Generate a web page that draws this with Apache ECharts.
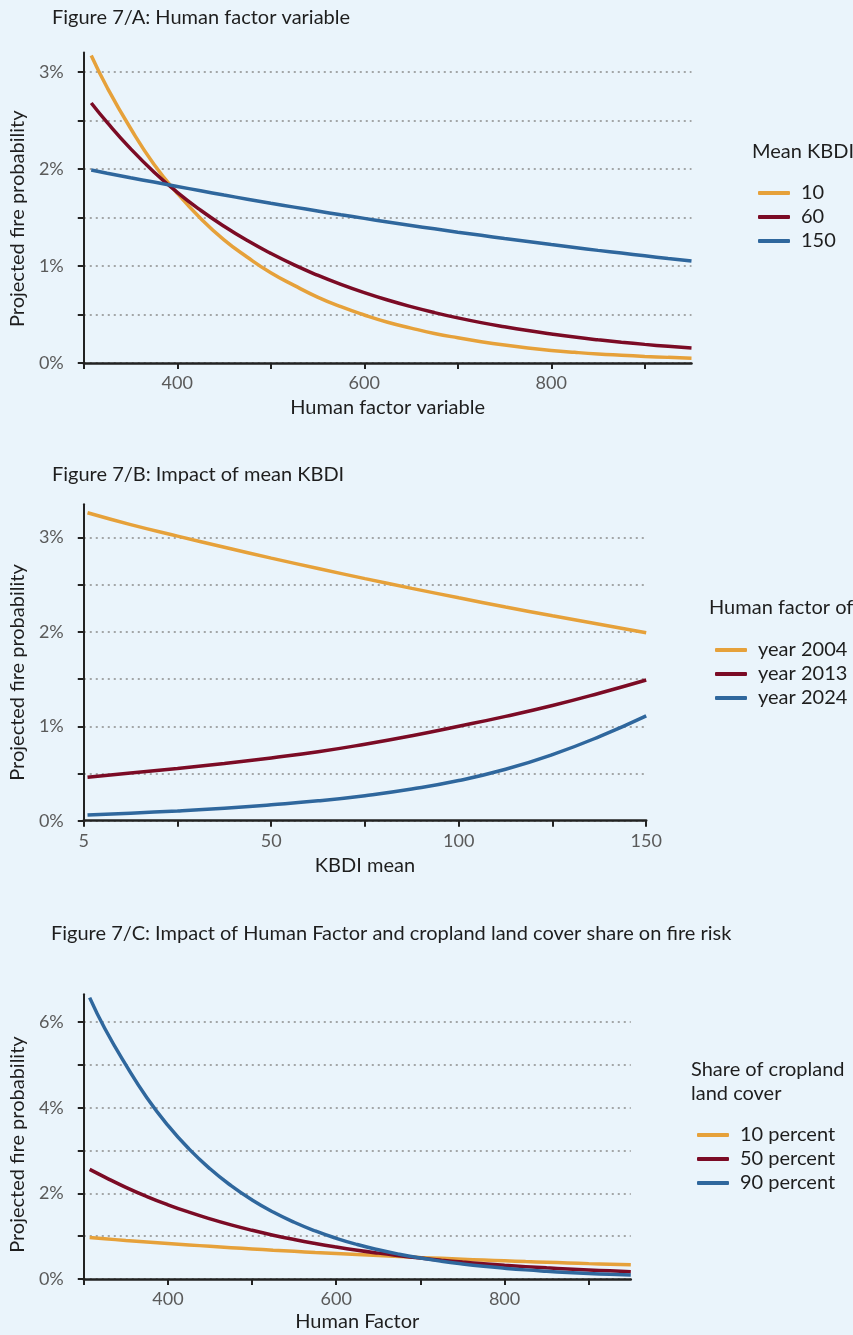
<!DOCTYPE html>
<html>
<head>
<meta charset="utf-8">
<script src="https://cdn.jsdelivr.net/npm/echarts@6/dist/echarts.min.js"></script>
<style>
  html, body { margin: 0; padding: 0; background: #eaf4fb; }
  #chart { width: 853px; height: 1335px; }
</style>
</head>
<body>
<div id="chart"></div>
<script>
// ---------- Data (values in percent) ----------
// Figure 7/A: Human factor variable
const hfA = [308, 325, 350, 375, 400, 425, 450, 475, 500, 525, 550, 575, 600, 625, 650, 675, 700, 725, 750, 775, 800, 825, 850, 875, 900, 925, 950];
const aKbdi10  = [3.17, 2.84, 2.42, 2.05, 1.75, 1.49, 1.27, 1.09, 0.93, 0.80, 0.68, 0.58, 0.495, 0.42, 0.36, 0.305, 0.26, 0.22, 0.185, 0.155, 0.13, 0.11, 0.093, 0.08, 0.068, 0.058, 0.05];
const aKbdi60  = [2.68, 2.48, 2.21, 1.97, 1.76, 1.575, 1.41, 1.262, 1.13, 1.011, 0.905, 0.81, 0.725, 0.649, 0.581, 0.52, 0.465, 0.416, 0.373, 0.334, 0.299, 0.267, 0.239, 0.214, 0.192, 0.172, 0.154];
const aKbdi150 = [1.99, 1.957, 1.91, 1.865, 1.82, 1.775, 1.731, 1.689, 1.647, 1.607, 1.567, 1.528, 1.491, 1.454, 1.418, 1.383, 1.349, 1.316, 1.283, 1.252, 1.221, 1.191, 1.161, 1.133, 1.105, 1.077, 1.051];
const aNames = ['10', '60', '150'];

// Figure 7/B: Impact of mean KBDI
const kbdiB = [1, 12.5, 25, 37.5, 50, 62.5, 75, 87.5, 100, 112.5, 125, 137.5, 150];
const bYear2004 = [3.26, 3.135, 3.013, 2.895, 2.78, 2.67, 2.563, 2.46, 2.36, 2.263, 2.17, 2.08, 1.99];
const bYear2013 = [0.46, 0.505, 0.553, 0.606, 0.665, 0.73, 0.81, 0.90, 1.00, 1.105, 1.22, 1.35, 1.49];
const bYear2024 = [0.06, 0.08, 0.103, 0.132, 0.168, 0.21, 0.265, 0.335, 0.425, 0.545, 0.70, 0.89, 1.11];
const bNames = ['year 2004', 'year 2013', 'year 2024'];

// Figure 7/C: Human Factor and cropland share
const hfC = [307, 325, 350, 375, 400, 425, 450, 475, 500, 525, 550, 575, 600, 625, 650, 675, 700, 725, 750, 775, 800, 825, 850, 875, 900, 925, 950];
const cCrop10 = [0.97, 0.94, 0.90, 0.865, 0.83, 0.796, 0.763, 0.732, 0.702, 0.673, 0.646, 0.619, 0.594, 0.57, 0.546, 0.524, 0.502, 0.482, 0.462, 0.443, 0.425, 0.407, 0.391, 0.375, 0.359, 0.345, 0.33];
const cCrop50 = [2.56, 2.38, 2.14, 1.925, 1.733, 1.56, 1.404, 1.263, 1.137, 1.023, 0.921, 0.829, 0.746, 0.671, 0.604, 0.544, 0.489, 0.44, 0.396, 0.357, 0.321, 0.289, 0.26, 0.234, 0.211, 0.19, 0.171];
const cCrop90 = [6.57, 5.85, 5.00, 4.235, 3.587, 3.038, 2.573, 2.18, 1.846, 1.564, 1.325, 1.122, 0.95, 0.805, 0.682, 0.577, 0.489, 0.414, 0.351, 0.297, 0.252, 0.213, 0.181, 0.153, 0.13, 0.11, 0.093];
const cNames = ['10 percent', '50 percent', '90 percent'];

// Tick values
const yTicksA = [0, 0.5, 1, 1.5, 2, 2.5, 3];
const yLabelsA = [0, 1, 2, 3];
const yTicksB = [0, 0.5, 1, 1.5, 2, 2.5, 3];
const yLabelsB = [0, 1, 2, 3];
const yTicksC = [0, 1, 2, 3, 4, 5, 6];
const yLabelsC = [0, 2, 4, 6];
const xTicksHF = [300, 400, 500, 600, 700, 800, 900];
const xLabelsHF = [400, 600, 800];
const xTicksB = [0, 25, 50, 75, 100, 125, 150];
const xLabelsB = [0, 50, 100, 150];

// ---------- Styling ----------
const FONT = 'Lato';
const COLORS = ['#e6a13a', '#7b0b25', '#2f679d'];
const AXIS_COLOR = '#222222';
const LABEL_COLOR = '#5a5a5a';
const TEXT_COLOR = '#1e1e1e';

function zip(xs, ys) { return xs.map((x, i) => [x, ys[i]]); }

function yAxisCfg(gridIndex, max, ticks, labels, padRight) {
  return {
    type: 'value', gridIndex, min: 0, max,
    name: 'Projected fire probability',
    nameLocation: 'middle', nameGap: 42,
    nameTextStyle: { fontFamily: FONT, fontSize: 20, color: TEXT_COLOR, padding: [0, padRight, 0, 0] },
    axisLine: { show: true, lineStyle: { color: AXIS_COLOR, width: 2 } },
    axisTick: { show: true, inside: false, length: 6, lineStyle: { color: AXIS_COLOR, width: 2 }, customValues: ticks },
    axisLabel: { customValues: labels, margin: 20, fontFamily: FONT, fontSize: 18, color: LABEL_COLOR,
                 formatter: v => v + '%' },
    splitLine: { show: true, lineStyle: { color: '#8c8c8c', type: [2, 4], width: 1.5 } }
  };
}

function xAxisCfg(gridIndex, min, max, ticks, labels, name, nameGap, fmt) {
  return {
    type: 'value', gridIndex, min, max,
    name, nameLocation: 'middle', nameGap,
    nameTextStyle: { fontFamily: FONT, fontSize: 20, color: TEXT_COLOR },
    axisLine: { show: true, onZero: false, lineStyle: { color: AXIS_COLOR, width: 2.5 } },
    axisTick: { show: true, inside: false, length: 6, lineStyle: { color: AXIS_COLOR, width: 2 }, customValues: ticks },
    axisLabel: { customValues: labels, margin: 11, fontFamily: FONT, fontSize: 18, color: LABEL_COLOR,
                 formatter: fmt || (v => String(v)) },
    splitLine: { show: false }
  };
}

function lineSeries(name, idx, xs, ys, color) {
  return {
    type: 'line', name, xAxisIndex: idx, yAxisIndex: idx,
    data: zip(xs, ys), smooth: 0.5, showSymbol: false, symbol: 'none',
    lineStyle: { color, width: 3.5 }, itemStyle: { color }, z: 3
  };
}

function legendCfg(names, left, top) {
  return {
    data: names, orient: 'vertical', left, top,
    icon: 'roundRect', itemWidth: 32, itemHeight: 4, itemGap: 4,
    textStyle: { fontFamily: FONT, fontSize: 20, color: TEXT_COLOR, lineHeight: 20, padding: [0, 0, 0, 6] },
    selectedMode: false
  };
}

function titleCfg(text, left, top, lineHeight) {
  return { text, left, top, padding: 0,
    textStyle: { fontFamily: FONT, fontSize: 20, fontWeight: 'normal', color: TEXT_COLOR, lineHeight: lineHeight || 22 } };
}

const option = {
  backgroundColor: '#eaf4fb',
  animation: false,
  title: [
    titleCfg('Figure 7/A: Human factor variable', 52, 7),
    titleCfg('Figure 7/B: Impact of mean KBDI', 52, 464),
    titleCfg('Figure 7/C: Impact of Human Factor and cropland land cover share on fire risk', 51, 923),
    titleCfg('Mean KBDI', 752, 141),
    titleCfg('Human factor of', 709, 597),
    titleCfg('Share of cropland\nland cover', 691, 1058, 23.4)
  ],
  legend: [
    legendCfg(aNames, 753, 178),
    legendCfg(bNames, 710, 635),
    legendCfg(cNames, 692, 1120)
  ],
  grid: [
    { left: 73.5, top: 52.6, width: 618, height: 310.4 },
    { left: 75.7, top: 504.3, width: 570.5, height: 316.4 },
    { left: 73, top: 994.2, width: 557.8, height: 284.8 }
  ],
  xAxis: [
    xAxisCfg(0, 300, 950, xTicksHF, xLabelsHF, 'Human factor variable', 35),
    xAxisCfg(1, 0, 150, xTicksB, xLabelsB, 'KBDI mean', 35, v => (v === 0 ? '5' : String(v))),
    xAxisCfg(2, 300, 950, xTicksHF, xLabelsHF, 'Human Factor', 33)
  ],
  yAxis: [
    yAxisCfg(0, 3.2, yTicksA, yLabelsA, 22),
    yAxisCfg(1, 3.35, yTicksB, yLabelsB, 20),
    yAxisCfg(2, 6.65, yTicksC, yLabelsC, 16)
  ],
  series: [
    lineSeries(aNames[0], 0, hfA, aKbdi10, COLORS[0]),
    lineSeries(aNames[1], 0, hfA, aKbdi60, COLORS[1]),
    lineSeries(aNames[2], 0, hfA, aKbdi150, COLORS[2]),
    lineSeries(bNames[0], 1, kbdiB, bYear2004, COLORS[0]),
    lineSeries(bNames[1], 1, kbdiB, bYear2013, COLORS[1]),
    lineSeries(bNames[2], 1, kbdiB, bYear2024, COLORS[2]),
    lineSeries(cNames[0], 2, hfC, cCrop10, COLORS[0]),
    lineSeries(cNames[1], 2, hfC, cCrop50, COLORS[1]),
    lineSeries(cNames[2], 2, hfC, cCrop90, COLORS[2])
  ]
};

const chart = echarts.init(document.getElementById('chart'), null, { renderer: 'canvas' });
chart.setOption(option);
</script>
</body>
</html>
